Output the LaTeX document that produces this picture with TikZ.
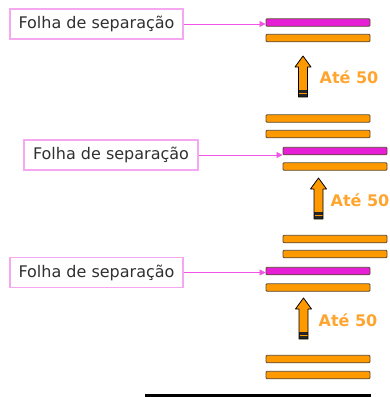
\documentclass[tikz,border=0pt]{standalone}
\usepackage{fontspec}
\setmainfont{DejaVu Sans}
\usetikzlibrary{arrows.meta}
\definecolor{barorange}{HTML}{FF9900}
\definecolor{barmag}{HTML}{E61ED6}
\definecolor{edgebar}{HTML}{5A4A30}
\definecolor{labpink}{HTML}{F5A8F0}
\definecolor{linkpink}{HTML}{F055E6}
\definecolor{txtorange}{HTML}{FFA42E}
\definecolor{txtgray}{HTML}{303030}
\tikzset{
  bar/.style={draw=edgebar, line width=0.9pt, rounded corners=1pt, minimum width=104pt, minimum height=7.5pt, inner sep=0pt},
  obar/.style={bar, fill=barorange},
  mbar/.style={bar, fill=barmag},
  labelbox/.style={draw=labpink, line width=1.3pt, fill=white, minimum height=30pt, inner sep=0pt, font=\fontsize{16}{19}\selectfont, text=txtgray},
  link/.style={draw=linkpink, line width=0.8pt, -{Triangle[length=6pt,width=6pt]}},
  count/.style={font=\bfseries\fontsize{16}{19}\selectfont, text=txtorange, inner sep=0pt},
  uparrow/.pic={
    \fill[barorange] (0,0) -- (8,11) -- (4.5,11) -- (4.5,41) -- (-4.5,41) -- (-4.5,11) -- (-8,11) -- cycle;
    \fill[black!85] (-4.5,34) rectangle (4.5,41);
    \draw[barorange, line width=1.1pt] (-4,37.5) -- (4,37.5);
    \draw[black, line width=0.8pt, line join=round] (0,0) -- (8,11) -- (4.5,11) -- (4.5,41) -- (-4.5,41) -- (-4.5,11) -- (-8,11) -- cycle;
  }
}
\begin{document}
\begin{tikzpicture}[x=1pt, y=-1pt]
\useasboundingbox (0,0) rectangle (389,397);

% top group
\node[mbar] (t1) at (318,22.5) {};
\node[obar] (t2) at (318,38) {};
\node[obar] (t3) at (318,118.5) {};
\node[obar] (t4) at (318,134) {};
\node[labelbox, minimum width=173pt] (lt) at (96.5,24) {Folha de separação};
\draw[link] (lt.east) -- (lt.east -| t1.west);
\pic at (303,56) {uparrow};
\node[count] (ct) at (349,77) {Até 50};

% middle group
\node[mbar] (m1) at (335,151) {};
\node[obar] (m2) at (335,166.5) {};
\node[obar] (m3) at (335,239) {};
\node[obar] (m4) at (335,254) {};
\node[labelbox, minimum width=174pt] (lm) at (111,155) {Folha de separação};
\draw[link] (lm.east) -- (lm.east -| m1.west);
\pic at (318.5,178) {uparrow};
\node[count] (cm) at (360,200) {Até 50};

% bottom group
\node[mbar] (b1) at (318,271) {};
\node[obar] (b2) at (318,287.5) {};
\node[obar] (b3) at (318,359) {};
\node[obar] (b4) at (318,375) {};
\node[labelbox, minimum width=173pt] (lb) at (96.5,272.5) {Folha de separação};
\draw[link] (lb.east) -- (lb.east -| b1.west);
\pic at (303.5,298) {uparrow};
\node[count] (cb) at (348,320) {Até 50};

% base line
\draw[black, line width=3pt] (145,395.5) -- (371,395.5);
\end{tikzpicture}
\end{document}
